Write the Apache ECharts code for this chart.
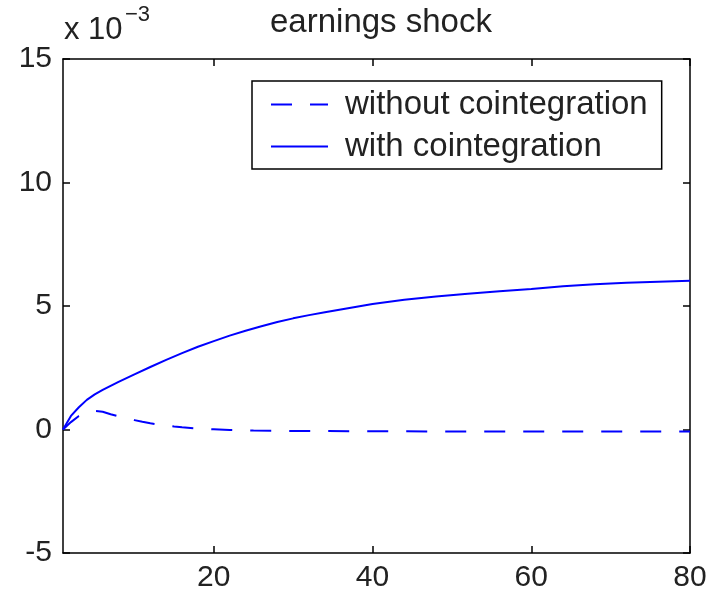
<!DOCTYPE html>
<html>
<head>
    <meta charset="UTF-8">
    <title>earnings shock</title>
    <script src="https://cdn.jsdelivr.net/npm/echarts@6/dist/echarts.min.js"></script>
    <style>
        html, body { margin: 0; padding: 0; background: #fff; }
        #main { width: 718px; height: 599px; }
    </style>
</head>
<body>
<div id="main"></div>
<script>
    // horizon (periods) and responses, in units of 10^-3
    var withoutX = [1, 2, 3, 4, 5, 6, 7, 8, 9, 10, 11, 12, 13, 14, 15, 16, 18, 20, 22, 25, 30, 40, 50, 60, 70, 80];
    var withoutY = [0, 0.3, 0.55, 0.7, 0.75, 0.72, 0.62, 0.53, 0.45, 0.38, 0.31, 0.25, 0.2, 0.16, 0.12, 0.09, 0.04, 0.01, -0.02, -0.04, -0.06, -0.07, -0.08, -0.08, -0.08, -0.08];
    var withX = [1, 2, 3, 4, 5, 6, 7, 8, 9, 10, 12, 14, 16, 18, 20, 22, 24, 26, 28, 30, 32, 34, 36, 38, 40, 44, 48, 52, 56, 60, 64, 68, 72, 76, 80];
    var withY = [0, 0.55, 0.9, 1.2, 1.42, 1.6, 1.77, 1.93, 2.08, 2.23, 2.53, 2.82, 3.09, 3.35, 3.58, 3.8, 4.0, 4.18, 4.35, 4.5, 4.63, 4.75, 4.86, 4.97, 5.08, 5.25, 5.38, 5.5, 5.6, 5.69, 5.8, 5.88, 5.94, 5.98, 6.02];
    var xTicks = [20, 40, 60, 80];

    function pairs(xs, ys) {
        return xs.map(function (x, i) { return [x, ys[i]]; });
    }

    var ink = '#222';
    var blue = '#0000ff';
    var dash = [21, 18];
    var font = 'Liberation Sans, Arial, sans-serif';
    var myChart = echarts.init(document.getElementById('main'));
    var option = {
        animation: false,
        backgroundColor: '#fff',
        title: {
            text: 'earnings shock',
            left: 265, top: 1,
            textStyle: { fontFamily: font, fontSize: 33, fontWeight: 'normal', color: ink }
        },
        graphic: [
            { type: 'text', left: 64, top: 15, style: { text: 'x 10', font: '31px Liberation Sans', fill: ink } },
            { type: 'text', left: 125, top: 4, style: { text: '\u22123', font: '22px Liberation Sans', fill: ink } }
        ],
        legend: {
            left: 252, top: 81,
            orient: 'vertical',
            backgroundColor: '#fff',
            borderColor: '#000', borderWidth: 1.5,
            padding: [7, 14, 6, 18],
            itemWidth: 57, itemHeight: 30, itemGap: 9,
            itemStyle: { opacity: 0 },
            textStyle: { fontFamily: font, fontSize: 33, color: ink, padding: [0, 0, 0, 12] },
            data: [
                { name: 'without cointegration', lineStyle: { type: dash, width: 2, color: blue } },
                { name: 'with cointegration', lineStyle: { width: 2, color: blue } }
            ]
        },
        grid: { left: 63, right: 28, top: 59, bottom: 46 },
        xAxis: [{
            type: 'value', min: 1, max: 80,
            axisLine: { onZero: false, lineStyle: { color: '#000', width: 1.5 } },
            axisTick: { inside: true, length: 7, customValues: xTicks, lineStyle: { color: '#000', width: 1.5 } },
            axisLabel: { customValues: xTicks, margin: 10, fontFamily: font, fontSize: 30, color: ink },
            splitLine: { show: false }
        }, {
            type: 'value', min: 1, max: 80, position: 'top',
            axisLine: { onZero: false, lineStyle: { color: '#000', width: 1.5 } },
            axisTick: { inside: true, length: 7, customValues: xTicks, lineStyle: { color: '#000', width: 1.5 } },
            axisLabel: { show: false },
            splitLine: { show: false }
        }],
        yAxis: [{
            type: 'value', min: -5, max: 15, interval: 5,
            axisLine: { show: true, onZero: false, lineStyle: { color: '#000', width: 1.5 } },
            axisTick: { show: true, inside: true, length: 7, lineStyle: { color: '#000', width: 1.5 } },
            axisLabel: {
                margin: 11, fontFamily: font, fontSize: 30, color: ink,
                formatter: function (v) { return v < 0 ? '-' + (-v) : String(v); }
            },
            splitLine: { show: false }
        }, {
            type: 'value', min: -5, max: 15, interval: 5, position: 'right',
            axisLine: { show: true, onZero: false, lineStyle: { color: '#000', width: 1.5 } },
            axisTick: { show: true, inside: true, length: 7, lineStyle: { color: '#000', width: 1.5 } },
            axisLabel: { show: false },
            splitLine: { show: false }
        }],
        series: [
            {
                name: 'without cointegration',
                type: 'line',
                data: pairs(withoutX, withoutY),
                symbol: 'none',
                color: blue,
                lineStyle: { color: blue, width: 2, type: dash }
            },
            {
                name: 'with cointegration',
                type: 'line',
                data: pairs(withX, withY),
                symbol: 'none',
                color: blue,
                lineStyle: { color: blue, width: 2 }
            }
        ]
    };
    myChart.setOption(option);
</script>
</body>
</html>
